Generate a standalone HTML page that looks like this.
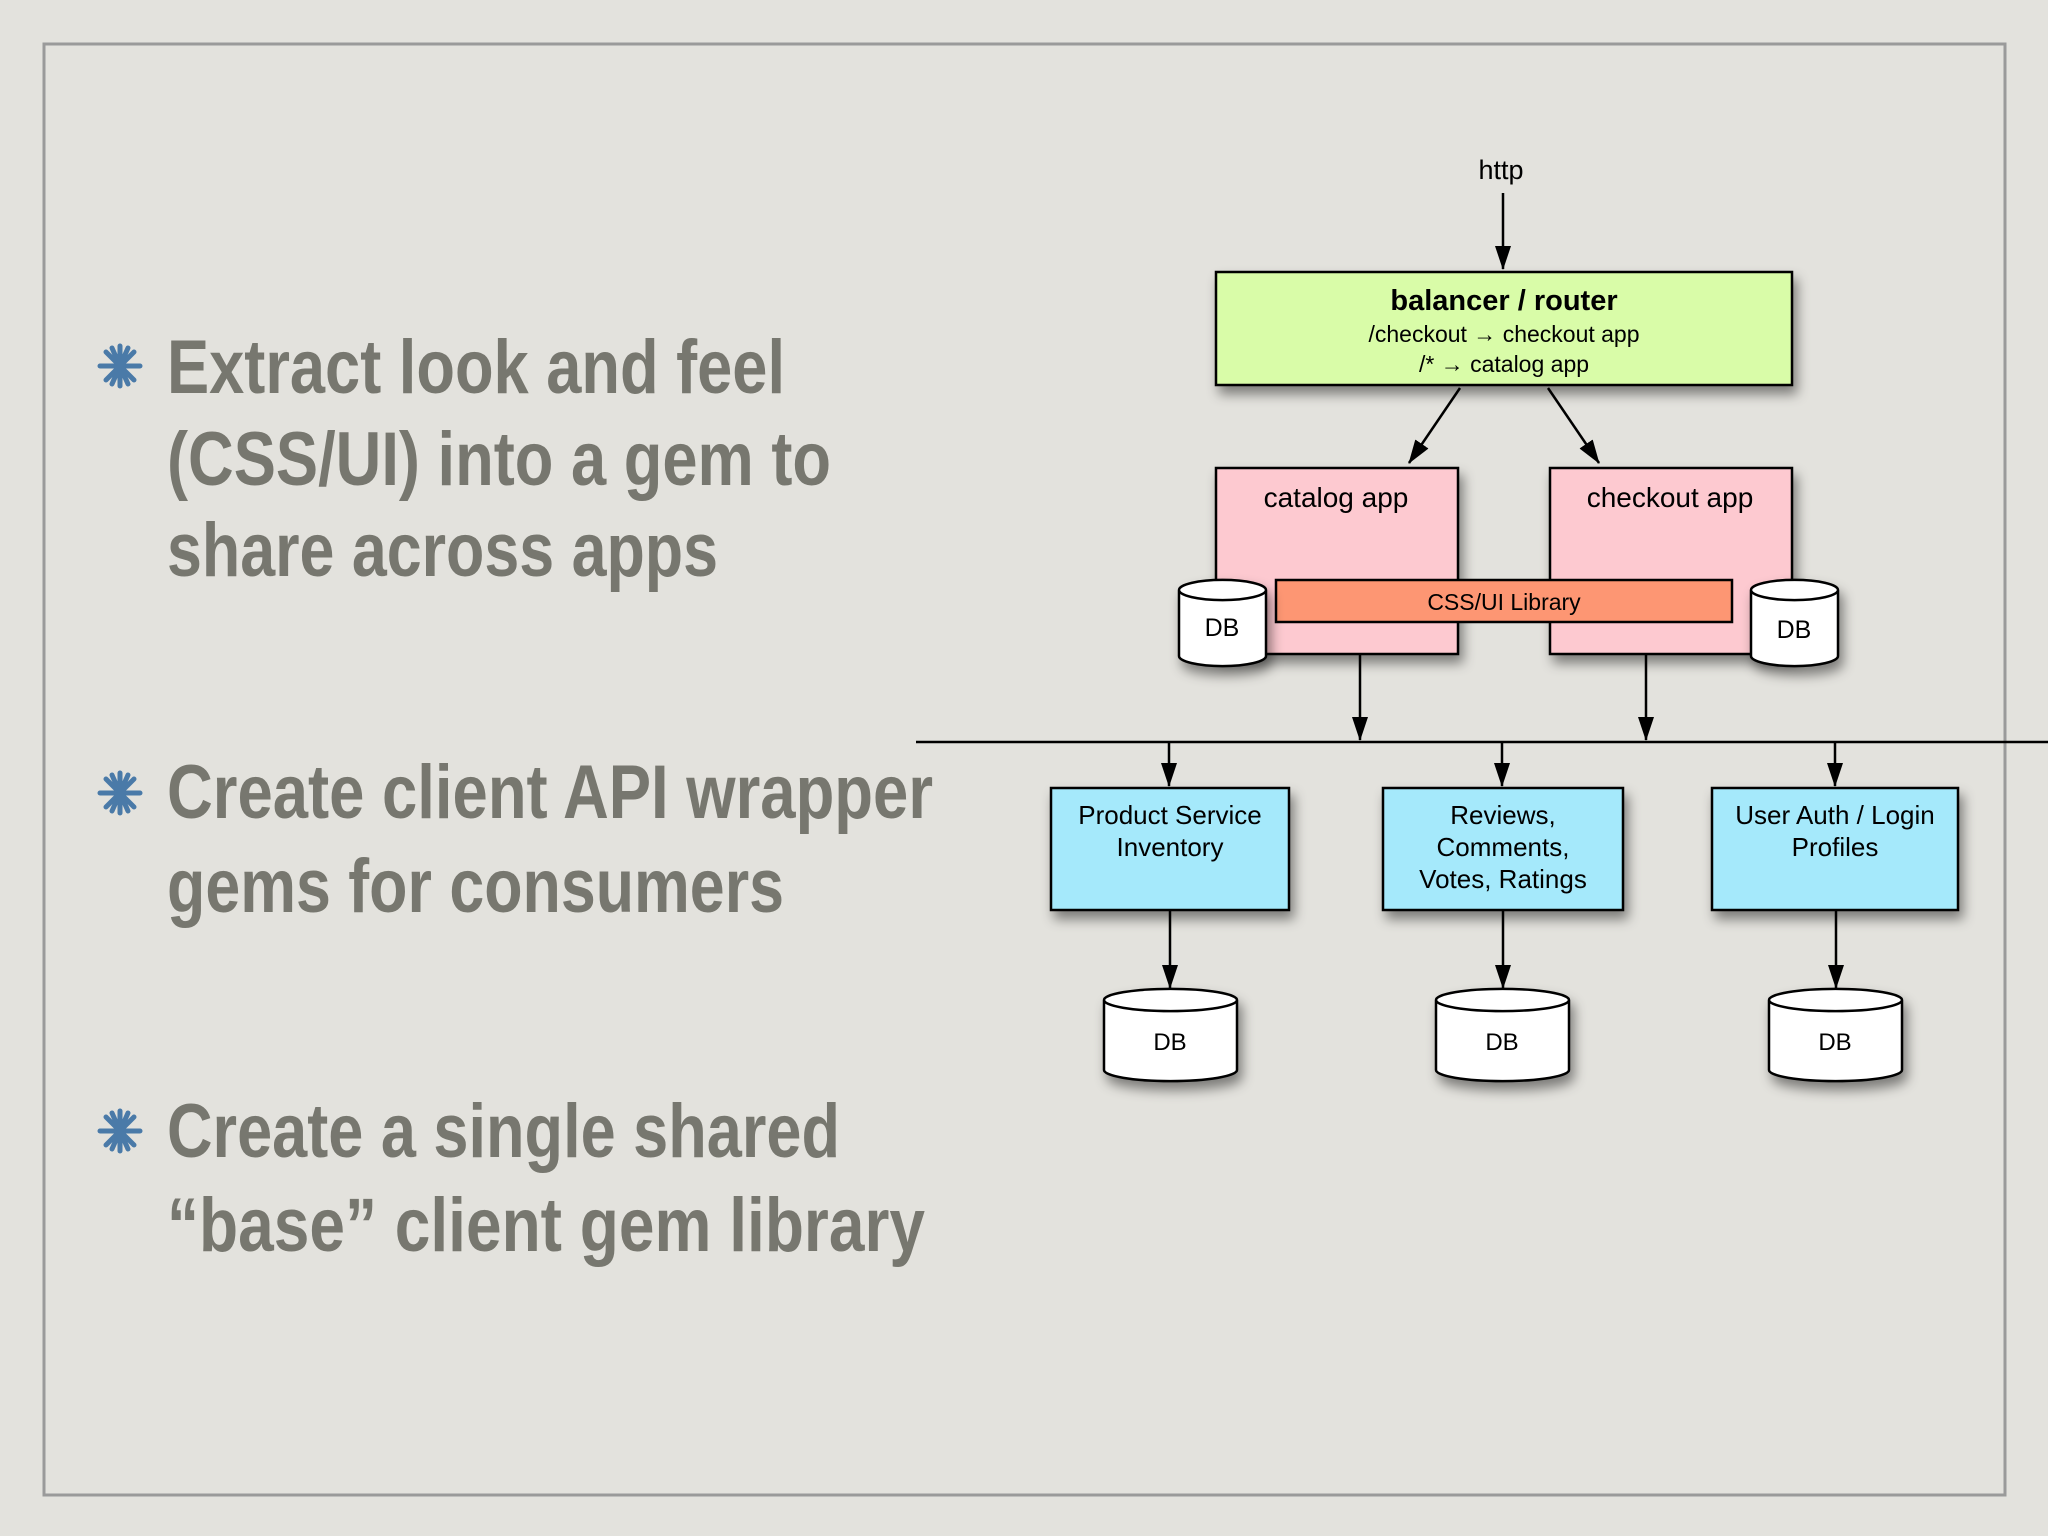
<!DOCTYPE html>
<html><head><meta charset="utf-8"><style>
html,body{margin:0;padding:0;background:#e3e2dd;}
svg{display:block;}
</style></head><body>
<svg width="2048" height="1536" viewBox="0 0 2048 1536" xmlns="http://www.w3.org/2000/svg">
<defs>
<filter id="sh" x="-20%" y="-20%" width="150%" height="160%"><feDropShadow dx="4" dy="8" stdDeviation="6" flood-color="#000" flood-opacity="0.45"/></filter>
<marker id="ah" markerWidth="24" markerHeight="16" refX="23" refY="8" orient="auto" markerUnits="userSpaceOnUse" viewBox="0 0 24 16"><path d="M0,0 L24,8 L0,16 z" fill="#000"/></marker>
</defs>
<rect width="2048" height="1536" fill="#e3e2dd"/>
<rect x="44" y="44" width="1961" height="1451" fill="none" stroke="#9a9a9a" stroke-width="3"/>

<g font-family="'Liberation Sans Narrow','Liberation Sans',sans-serif" font-weight="bold" font-size="76" fill="#77776f">
<text x="167" y="393" textLength="618" lengthAdjust="spacingAndGlyphs">Extract look and feel</text>
<text x="167" y="485" textLength="664" lengthAdjust="spacingAndGlyphs">(CSS/UI) into a gem to</text>
<text x="167" y="576" textLength="551" lengthAdjust="spacingAndGlyphs">share across apps</text>
<text x="167" y="818" textLength="766" lengthAdjust="spacingAndGlyphs">Create client API wrapper</text>
<text x="167" y="912" textLength="617" lengthAdjust="spacingAndGlyphs">gems for consumers</text>
<text x="167" y="1157" textLength="673" lengthAdjust="spacingAndGlyphs">Create a single shared</text>
<text x="167" y="1251" textLength="758" lengthAdjust="spacingAndGlyphs">“base” client gem library</text>
</g>
<g stroke="#4a7aa8" stroke-width="5" stroke-linecap="round">
<g transform="translate(120,366)"><line x1="-20" y1="0" x2="20" y2="0"/><line x1="0" y1="-20" x2="0" y2="20"/><line x1="-14" y1="-14" x2="14" y2="14"/><line x1="-14" y1="14" x2="14" y2="-14"/><line x1="-8" y1="-18" x2="8" y2="18"/><line x1="8" y1="-18" x2="-8" y2="18"/></g>
<g transform="translate(120,793)"><line x1="-20" y1="0" x2="20" y2="0"/><line x1="0" y1="-20" x2="0" y2="20"/><line x1="-14" y1="-14" x2="14" y2="14"/><line x1="-14" y1="14" x2="14" y2="-14"/><line x1="-8" y1="-18" x2="8" y2="18"/><line x1="8" y1="-18" x2="-8" y2="18"/></g>
<g transform="translate(120,1131)"><line x1="-20" y1="0" x2="20" y2="0"/><line x1="0" y1="-20" x2="0" y2="20"/><line x1="-14" y1="-14" x2="14" y2="14"/><line x1="-14" y1="14" x2="14" y2="-14"/><line x1="-8" y1="-18" x2="8" y2="18"/><line x1="8" y1="-18" x2="-8" y2="18"/></g>
</g>

<g font-family="'Liberation Sans',sans-serif" fill="#000" text-anchor="middle">
<text x="1501" y="179" font-size="27">http</text>
<g stroke="#000" stroke-width="2.5" fill="none" marker-end="url(#ah)">
<line x1="1503" y1="193" x2="1503" y2="269"/>
<line x1="1460" y1="388" x2="1409" y2="463"/>
<line x1="1548" y1="388" x2="1599" y2="463"/>
<line x1="1360" y1="654" x2="1360" y2="740"/>
<line x1="1646" y1="654" x2="1646" y2="740"/>
<line x1="1169" y1="743" x2="1169" y2="786"/>
<line x1="1502" y1="743" x2="1502" y2="786"/>
<line x1="1835" y1="743" x2="1835" y2="786"/>
<line x1="1170" y1="910" x2="1170" y2="988"/>
<line x1="1503" y1="910" x2="1503" y2="988"/>
<line x1="1836" y1="910" x2="1836" y2="988"/>
</g>
<line x1="916" y1="742" x2="2048" y2="742" stroke="#000" stroke-width="2.5"/>

<rect x="1216" y="272" width="576" height="113" fill="#d9fca8" stroke="#000" stroke-width="2.5" filter="url(#sh)"/>
<text x="1504" y="310" font-size="29" font-weight="bold">balancer / router</text>
<text x="1504" y="342" font-size="23">/checkout → checkout app</text>
<text x="1504" y="372" font-size="23">/* → catalog app</text>

<rect x="1216" y="468" width="242" height="186" fill="#fdc9d0" stroke="#000" stroke-width="2.5" filter="url(#sh)"/>
<rect x="1550" y="468" width="242" height="186" fill="#fdc9d0" stroke="#000" stroke-width="2.5" filter="url(#sh)"/>
<text x="1336" y="507" font-size="28">catalog app</text>
<text x="1670" y="507" font-size="28">checkout app</text>
<rect x="1276" y="580" width="456" height="42" fill="#fd9673" stroke="#000" stroke-width="2.5"/>
<text x="1504" y="610" font-size="23">CSS/UI Library</text>

<g stroke="#000" stroke-width="2.5" fill="#fff" filter="url(#sh)">
<path d="M1179,590 v66 a43,10 0 0 0 87,0 v-66 a43,10 0 0 0 -87,0 a43,10 0 0 0 87,0"/>
<path d="M1751,590 v66 a43,10 0 0 0 87,0 v-66 a43,10 0 0 0 -87,0 a43,10 0 0 0 87,0"/>
<path d="M1104,1000 v70 a66,11 0 0 0 133,0 v-70 a66,11 0 0 0 -133,0 a66,11 0 0 0 133,0"/>
<path d="M1436,1000 v70 a66,11 0 0 0 133,0 v-70 a66,11 0 0 0 -133,0 a66,11 0 0 0 133,0"/>
<path d="M1769,1000 v70 a66,11 0 0 0 133,0 v-70 a66,11 0 0 0 -133,0 a66,11 0 0 0 133,0"/>
</g>
<text x="1222" y="636" font-size="25">DB</text>
<text x="1794" y="638" font-size="25">DB</text>
<text x="1170" y="1050" font-size="24">DB</text>
<text x="1502" y="1050" font-size="24">DB</text>
<text x="1835" y="1050" font-size="24">DB</text>

<g fill="#a5e9fb" stroke="#000" stroke-width="2.5" filter="url(#sh)">
<rect x="1051" y="788" width="238" height="122"/>
<rect x="1383" y="788" width="240" height="122"/>
<rect x="1712" y="788" width="246" height="122"/>
</g>
<g font-size="26">
<text x="1170" y="824">Product Service</text>
<text x="1170" y="856">Inventory</text>
<text x="1503" y="824">Reviews,</text>
<text x="1503" y="856">Comments,</text>
<text x="1503" y="888">Votes, Ratings</text>
<text x="1835" y="824">User Auth / Login</text>
<text x="1835" y="856">Profiles</text>
</g>
</g>
</svg>
</body></html>
